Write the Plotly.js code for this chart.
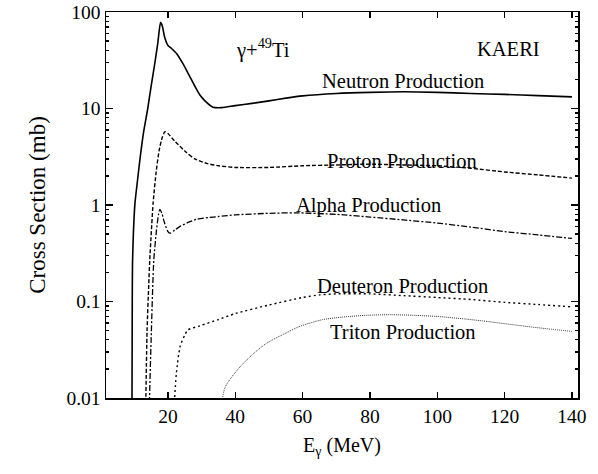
<!DOCTYPE html>
<html>
<head>
<meta charset="utf-8">
<script src="https://cdn.plot.ly/plotly-3.0.1.min.js"></script>
<style>html,body{margin:0;padding:0;background:#fff;}#chart{width:598px;height:474px;}</style>
</head>
<body>
<div id="chart"></div>
<script>
// Photon energy (MeV) and cross sections (mb)
const neutronE  = [9.3, 9.4, 9.5, 10.2, 10.7, 11.7, 12.7, 14, 15, 16, 17, 17.8, 18.4, 19, 20, 21, 22.6, 24.5, 26.5, 28, 29.5, 31, 33.4, 36, 40, 45, 50, 55, 60, 70, 80, 90, 100, 110, 120, 130, 140];
const neutronXS = [0.005, 0.1, 0.27, 1.04, 1.5, 3.0, 5.5, 10, 17, 28, 48, 78, 70, 55, 45, 42, 37, 29, 21.4, 17, 13.8, 12, 10.3, 10.2, 10.7, 11.3, 12.0, 12.8, 13.5, 14.3, 14.7, 14.9, 14.7, 14.3, 14.0, 13.6, 13.2];

const protonE  = [13.3, 13.8, 14.3, 14.6, 15.6, 16.5, 17.4, 18.3, 19.1, 20, 22, 25.5, 28, 31.5, 35, 40, 50, 60, 70, 80, 90, 100, 110, 120, 130, 140];
const protonXS = [0.005, 0.05, 0.15, 0.27, 1.05, 2.2, 3.7, 5.0, 5.75, 5.5, 4.6, 3.5, 3.0, 2.7, 2.55, 2.45, 2.45, 2.55, 2.6, 2.65, 2.6, 2.55, 2.4, 2.2, 2.05, 1.9];

const alphaE  = [14.3, 15.0, 15.8, 16.6, 17.2, 17.6, 18.2, 19, 20, 20.6, 22, 23.6, 26, 28.5, 32, 35, 40, 50, 58, 70, 80, 90, 100, 110, 120, 130, 140];
const alphaXS = [0.005, 0.04, 0.27, 0.55, 0.8, 0.9, 0.82, 0.65, 0.53, 0.51, 0.55, 0.6, 0.66, 0.71, 0.74, 0.76, 0.79, 0.82, 0.83, 0.8, 0.75, 0.70, 0.65, 0.59, 0.53, 0.49, 0.45];

const deuteronE  = [21.5, 22.5, 23.6, 25, 26, 29.5, 35, 40, 50, 60, 65, 70, 80, 90, 100, 110, 120, 130, 140];
const deuteronXS = [0.005, 0.018, 0.034, 0.045, 0.051, 0.056, 0.065, 0.075, 0.092, 0.11, 0.117, 0.12, 0.12, 0.115, 0.11, 0.105, 0.098, 0.093, 0.088];

const tritonE  = [35, 37, 41.4, 45, 49.3, 55, 59, 66, 72, 79, 86, 93, 100, 108, 115, 125, 133, 140];
const tritonXS = [0.005, 0.013, 0.021, 0.028, 0.037, 0.047, 0.055, 0.065, 0.069, 0.072, 0.073, 0.072, 0.07, 0.066, 0.062, 0.056, 0.052, 0.049];

const xTicks = [20, 40, 60, 80, 100, 120, 140];
const yTicks = [0.01, 0.1, 1, 10, 100];
const yTickText = ['0.01', '0.1', '1', '10', '100'];

const labels = ['Neutron Production', 'Proton Production', 'Alpha Production', 'Deuteron Production', 'Triton Production'];
const labelE  = [89.8, 89.5, 79.7, 89.8, 89.8];
const labelXS = [19.3, 2.86, 0.977, 0.145, 0.0483];

const font = 'Liberation Serif, Times New Roman, serif';

const yMinor = [];
for (let d = -2; d < 2; d++) for (let k = 2; k <= 9; k++) yMinor.push(k * Math.pow(10, d));

function tr(x, y, dash, width, color) {
  return {x: x, y: y, type: 'scatter', mode: 'lines', line: {color: color, width: width, dash: dash, shape: 'spline', smoothing: 0.6}, hoverinfo: 'skip'};
}

const data = [
  tr(neutronE, neutronXS, 'solid', 1.6, '#000'),
  tr(protonE, protonXS, '4px,2px', 1.4, '#000'),
  tr(alphaE, alphaXS, '6px,2px,2px,2px', 1.3, '#000'),
  tr(deuteronE, deuteronXS, '2px,3px', 1.4, '#000'),
  tr(tritonE, tritonXS, '1px,1px', 1.0, '#333')
];

const ann = labels.map((t, i) => ({
  x: labelE[i], y: Math.log10(labelXS[i]), xref: 'x', yref: 'y', text: t,
  showarrow: false, xanchor: 'center', yanchor: 'middle',
  font: {family: font, size: 20.5, color: '#000'}
}));

ann.push({x: 0.333, y: 0.905, xref: 'paper', yref: 'paper', xanchor: 'center', yanchor: 'middle', text: 'γ+<sup>49</sup>Ti', showarrow: false, font: {family: font, size: 20.5, color: '#000'}});
ann.push({x: 0.852, y: 0.905, xref: 'paper', yref: 'paper', xanchor: 'center', yanchor: 'middle', text: 'KAERI', showarrow: false, font: {family: font, size: 20.5, color: '#000'}});

const layout = {
  width: 598, height: 474,
  margin: {l: 106, r: 20, t: 12, b: 76},
  paper_bgcolor: '#fff', plot_bgcolor: '#fff',
  showlegend: false,
  font: {family: font, size: 19, color: '#000'},
  xaxis: {
    range: [1.6, 141.8],
    tickvals: xTicks,
    ticks: 'inside', ticklen: 6, tickwidth: 1.2, tickcolor: '#000',
    showline: true, linecolor: '#000', linewidth: 1.5, mirror: 'ticks',
    showgrid: false, zeroline: false,
    tickfont: {family: font, size: 19.5},
    title: {text: 'E<sub>γ</sub> (MeV)', font: {family: font, size: 20}, standoff: 12}
  },
  yaxis: {
    type: 'log',
    range: [-2, 2],
    tickmode: 'array', tickvals: yTicks, ticktext: yTickText,
    ticks: 'inside', ticklen: 7, tickwidth: 1.2, tickcolor: '#000',
    minor: {tickmode: 'array', tickvals: yMinor, ticks: 'inside', ticklen: 3, tickcolor: '#000', showgrid: false},
    showline: true, linecolor: '#000', linewidth: 1.5, mirror: 'ticks',
    showgrid: false, zeroline: false,
    tickfont: {family: font, size: 19.5},
    title: {text: 'Cross Section (mb)', font: {family: font, size: 23}, standoff: 14}
  },
  annotations: ann
};

Plotly.newPlot('chart', data, layout, {staticPlot: true, displayModeBar: false});
</script>
</body>
</html>
